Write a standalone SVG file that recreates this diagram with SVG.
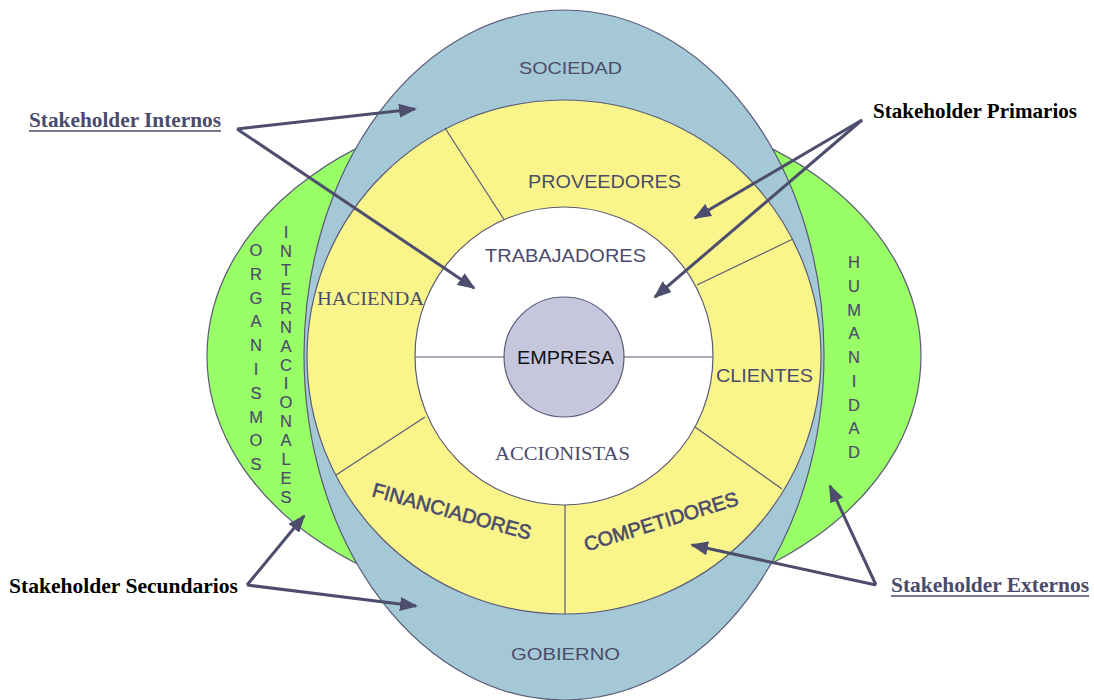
<svg xmlns="http://www.w3.org/2000/svg" width="1094" height="700" viewBox="0 0 1094 700">
<style>
.sh{stroke:#5a5a78;stroke-width:1.2}
.sans{font-family:"Liberation Sans",Arial,sans-serif;fill:#4b4b6b}
.serif{font-family:"Liberation Serif","Times New Roman",serif;fill:#4b4b6b}
.lbl{font-family:"Liberation Serif","Times New Roman",serif;font-weight:bold;font-size:21px}
.div{stroke:#5a5a78;stroke-width:1.2;fill:none}
.arr{stroke:#4d4d6d;stroke-width:3;fill:none;marker-end:url(#ah)}
.vert{font-family:"Liberation Sans",Arial,sans-serif;font-size:16.5px;fill:#4b4b6b;text-anchor:middle;stroke:#4b4b6b;stroke-width:0.2}
</style>
<defs>
<marker id="ah" markerUnits="userSpaceOnUse" markerWidth="18" markerHeight="14" refX="16" refY="7" orient="auto" viewBox="0 0 18 14">
<path d="M0,0 L18,7 L0,14 z" fill="#4d4d6d"/>
</marker>
</defs>
<rect width="1094" height="700" fill="#ffffff"/>
<g id="humanidad-organismos">
<ellipse class="sh" cx="564" cy="356" rx="357" ry="255" fill="#99ff66"/>
<text class="vert"><tspan x="256" y="256">O</tspan><tspan x="256" y="279.8">R</tspan><tspan x="256" y="303.6">G</tspan><tspan x="256" y="327.4">A</tspan><tspan x="256" y="351.2">N</tspan><tspan x="256" y="375">I</tspan><tspan x="256" y="398.8">S</tspan><tspan x="256" y="422.6">M</tspan><tspan x="256" y="446.4">O</tspan><tspan x="256" y="470.2">S</tspan></text>
<text class="vert"><tspan x="286" y="238">I</tspan><tspan x="286" y="256.9">N</tspan><tspan x="286" y="275.9">T</tspan><tspan x="286" y="294.8">E</tspan><tspan x="286" y="313.7">R</tspan><tspan x="286" y="332.6">N</tspan><tspan x="286" y="351.6">A</tspan><tspan x="286" y="370.5">C</tspan><tspan x="286" y="389.4">I</tspan><tspan x="286" y="408.4">O</tspan><tspan x="286" y="427.3">N</tspan><tspan x="286" y="446.2">A</tspan><tspan x="286" y="465.1">L</tspan><tspan x="286" y="484.1">E</tspan><tspan x="286" y="503">S</tspan></text>
<text class="vert"><tspan x="854" y="268">H</tspan><tspan x="854" y="291.8">U</tspan><tspan x="854" y="315.5">M</tspan><tspan x="854" y="339.3">A</tspan><tspan x="854" y="363">N</tspan><tspan x="854" y="386.8">I</tspan><tspan x="854" y="410.5">D</tspan><tspan x="854" y="434.3">A</tspan><tspan x="854" y="458">D</tspan></text>
</g>
<g id="sociedad-gobierno">
<ellipse class="sh" cx="564" cy="355" rx="260" ry="345" fill="#a4c8d6"/>
<text class="sans" x="519" y="74" font-size="17" textLength="103" lengthAdjust="spacingAndGlyphs">SOCIEDAD</text>
<text class="sans" x="511" y="660" font-size="17" textLength="109" lengthAdjust="spacingAndGlyphs">GOBIERNO</text>
</g>
<g id="primarios-ring">
<circle class="sh" cx="564" cy="357" r="257" fill="#faf58a"/>
<line class="div" x1="445" y1="128" x2="505" y2="221"/>
<line class="div" x1="697" y1="285" x2="793" y2="239"/>
<line class="div" x1="695" y1="427" x2="782" y2="489"/>
<line class="div" x1="565" y1="505" x2="565" y2="614"/>
<line class="div" x1="425" y1="417" x2="336" y2="475"/>
<text class="sans" x="528" y="188" font-size="18" textLength="153" lengthAdjust="spacingAndGlyphs">PROVEEDORES</text>
<text class="serif" x="317" y="305" font-size="19" textLength="107" lengthAdjust="spacingAndGlyphs">HACIENDA</text>
<text class="sans" x="716" y="382" font-size="18" textLength="97" lengthAdjust="spacingAndGlyphs">CLIENTES</text>
<text class="sans" x="450" y="518" font-size="20" text-anchor="middle" textLength="164" lengthAdjust="spacingAndGlyphs" stroke="#4b4b6b" stroke-width="0.6" transform="rotate(15.5 450 518)">FINANCIADORES</text>
<text class="sans" x="663" y="528" font-size="20" text-anchor="middle" textLength="160" lengthAdjust="spacingAndGlyphs" stroke="#4b4b6b" stroke-width="0.6" transform="rotate(-17 663 528)">COMPETIDORES</text>
</g>
<g id="internos-ring">
<circle class="sh" cx="564" cy="356" r="149" fill="#ffffff"/>
<line class="div" x1="415" y1="357" x2="504" y2="357"/>
<line class="div" x1="624" y1="357" x2="713" y2="357"/>
<text class="sans" x="485" y="262" font-size="18" textLength="161" lengthAdjust="spacingAndGlyphs">TRABAJADORES</text>
<text class="serif" x="495" y="460" font-size="18" textLength="135" lengthAdjust="spacingAndGlyphs">ACCIONISTAS</text>
</g>
<g id="empresa">
<circle class="sh" cx="564" cy="357" r="60" fill="#c6c6dd"/>
<text x="517" y="364" font-family="Liberation Sans, Arial, sans-serif" font-size="18" fill="#111111" textLength="97" lengthAdjust="spacingAndGlyphs">EMPRESA</text>
</g>
<g id="connectors">
<path class="arr" d="M237,129 L415,109"/>
<path class="arr" d="M237,129 L474,288"/>
<path class="arr" d="M862,120 L695,218"/>
<path class="arr" d="M862,120 L655,297"/>
<path class="arr" d="M247,585 L304,516"/>
<path class="arr" d="M247,585 L416,606"/>
<path class="arr" d="M876,585 L692,545"/>
<path class="arr" d="M876,585 L830,486"/>
</g>
<g id="labels">
<text class="lbl" x="29" y="127" fill="#4b4b6b" textLength="192" lengthAdjust="spacingAndGlyphs">Stakeholder Internos</text>
<line x1="29" y1="131" x2="221" y2="131" stroke="#4b4b6b" stroke-width="1.3"/>
<text class="lbl" x="873" y="118" fill="#000000" textLength="204" lengthAdjust="spacingAndGlyphs">Stakeholder Primarios</text>
<text class="lbl" x="9" y="593" fill="#000000" textLength="229" lengthAdjust="spacingAndGlyphs">Stakeholder Secundarios</text>
<text class="lbl" x="891" y="592" fill="#4b4b6b" textLength="198" lengthAdjust="spacingAndGlyphs">Stakeholder Externos</text>
<line x1="891" y1="596" x2="1089" y2="596" stroke="#4b4b6b" stroke-width="1.3"/>
</g>
</svg>
